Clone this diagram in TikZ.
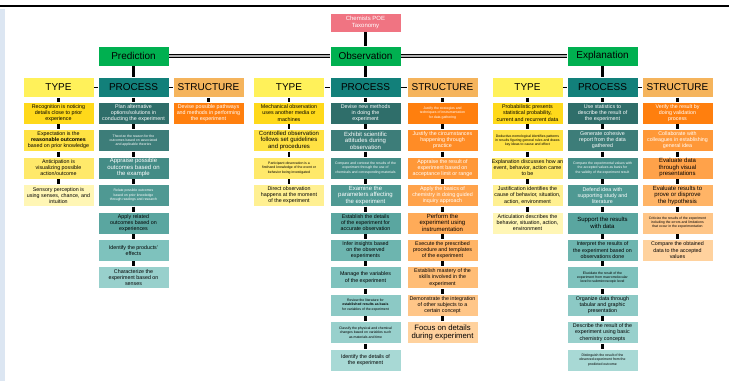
\documentclass[tikz,border=0pt]{standalone}
\usepackage{fontspec}
\setmainfont{Liberation Sans}
\usepackage{tikz}

\definecolor{strip}{HTML}{DCE6F2}
\definecolor{rootpink}{HTML}{F07482}
\definecolor{phasegreen}{HTML}{00B050}
\definecolor{typehead}{HTML}{FFF15A}
\definecolor{prochead}{HTML}{12807A}
\definecolor{structhead}{HTML}{F5B45C}
\definecolor{ya}{HTML}{FFD91A}
\definecolor{yb}{HTML}{FFE243}
\definecolor{yc}{HTML}{FFE96A}
\definecolor{yd}{HTML}{FFF092}
\definecolor{ye}{HTML}{FFF6B5}
\definecolor{ta}{HTML}{2F6E6A}
\definecolor{tb}{HTML}{3D7D79}
\definecolor{tc}{HTML}{448C86}
\definecolor{td}{HTML}{4F9993}
\definecolor{te}{HTML}{5AA6A0}
\definecolor{tf}{HTML}{6DB5AF}
\definecolor{tg}{HTML}{7EC2BD}
\definecolor{th}{HTML}{8CC9C5}
\definecolor{ti}{HTML}{98D0CC}
\definecolor{tj}{HTML}{A8D9D5}
\definecolor{oa}{HTML}{FF7F0E}
\definecolor{ob}{HTML}{FF8C26}
\definecolor{oc}{HTML}{FF9838}
\definecolor{od}{HTML}{FFA24A}
\definecolor{oe}{HTML}{FFAB58}
\definecolor{of}{HTML}{FFB466}
\definecolor{og}{HTML}{FFBD76}
\definecolor{oh}{HTML}{FFC688}
\definecolor{oi}{HTML}{FFD29E}

\newcommand{\cellfnt}{\fontsize{4}{4.6}\selectfont}
\newcommand{\tnfnt}{\fontsize{2.6}{3.2}\selectfont}
\newcommand{\bgfnt}{\fontsize{4.5}{4.9}\selectfont}
\newcommand{\hdfnt}{\fontsize{7.5}{8}\selectfont}

\tikzset{every picture/.style={line width=0.75pt},
  cell/.style={draw=white, line width=0.4pt, minimum width=53.25pt, minimum height=16.5pt,
    inner sep=0.3pt, align=center, font=\cellfnt},
  tn/.style={font=\tnfnt},
  bg/.style={font=\bgfnt},
  wt/.style={text=white},
  head/.style={cell, minimum height=15pt, font=\hdfnt},
  phase/.style={cell, fill=phasegreen, minimum height=15pt, font=\hdfnt},
  rootbox/.style={cell, fill=rootpink, text=white, minimum height=14pt, font=\fontsize{4.5}{5}\selectfont},
  link/.style={line width=1.9pt},
  hlink/.style={line width=1.2pt},
  dlink/.style={line width=0.8pt, double=gray!60, double distance=0.8pt}}

\begin{document}
\begin{tikzpicture}[x=0.75pt,y=0.75pt,yscale=-1,xscale=1]
\useasboundingbox (0,0) rectangle (729,381);

%Straight Lines top rule
\draw[line width=2pt] (0,6) -- (729,6);
%Shape: left strip
\fill[strip] (0,9) rectangle (5,381);

% Text Node root
\node[rootbox] (root) at (365.5,22.5) {Chemists POE\\Taxonomy};
% Text Node phases
\node[phase] (pred) at (133.5,56) {Prediction};
\node[phase] (obs) at (365.5,56) {Observation};
\node[phase] (expl) at (602.5,56) {Explanation};

% Text Node headers
\node[head, fill=typehead] (pty) at (58.5,87.5) {TYPE};
\node[head, fill=prochead] (ppr) at (133.5,87.5) {PROCESS};
\node[head, fill=structhead] (pst) at (208.5,87.5) {STRUCTURE};
\node[head, fill=typehead] (oty) at (289,87.5) {TYPE};
\node[head, fill=prochead] (opr) at (365.5,87.5) {PROCESS};
\node[head, fill=structhead] (ost) at (442.5,87.5) {STRUCTURE};
\node[head, fill=typehead] (ety) at (527.5,87.5) {TYPE};
\node[head, fill=prochead] (epr) at (602.5,87.5) {PROCESS};
\node[head, fill=structhead] (est) at (677.5,87.5) {STRUCTURE};

% Prediction type
\node[cell, fill=ya] (pt1) at (58.5,113) {Recognition is noticing\\details close to prior\\experience};
\node[cell, fill=yb] (pt2) at (58.5,140.4) {Expectation is the\\\textbf{reasonable outcomes}\\based on prior knowledge};
\node[cell, fill=yc] (pt3) at (58.5,167.9) {Anticipation is\\visualizing possible\\action/outcome};
\node[cell, fill=ye] (pt4) at (58.5,195.3) {Sensory perception is\\using senses, chance, and\\intuition};
% Prediction process
\node[cell, fill=ta, wt] (pp1) at (133.5,113) {Plan alternative\\options/solutions in\\conducting the experiment};
\node[cell, fill=tb, wt, tn] (pp2) at (133.5,140.4) {Theorize the reason for the\\outcomes based on associated\\and applicable theories};
\node[cell, fill=tc, wt, bg] (pp3) at (133.5,167.9) {Appraise possible\\outcomes based on\\the example};
\node[cell, fill=td, wt, tn] (pp4) at (133.5,195.3) {Relate possible outcomes\\based on prior knowledge\\through readings and research};
\node[cell, fill=te] (pp5) at (133.5,222.8) {Apply related\\outcomes based on\\experiences};
\node[cell, fill=tg] (pp6) at (133.5,250.2) {Identify the products'\\effects};
\node[cell, fill=ti] (pp7) at (133.5,277.6) {Characterize the\\experiment based on\\senses};
% Prediction structure
\node[cell, fill=oa, wt] (ps1) at (208.5,113) {Devise possible pathways\\and methods in performing\\the experiment};

% Observation type
\node[cell, fill=ya] (ot1) at (289,113) {Mechanical observation\\uses another media or\\machines};
\node[cell, fill=yb, bg] (ot2) at (289,140.4) {Controlled observation\\follows set guidelines\\and procedures};
\node[cell, fill=yc, tn] (ot3) at (289,167.9) {Participant observation is a\\firsthand knowledge of the event or\\behavior being investigated};
\node[cell, fill=yd] (ot4) at (289,195.3) {Direct observation\\happens at the moment\\of the experiment};
% Observation process
\node[cell, fill=ta, wt] (op1) at (365.5,113) {Devise new methods\\in doing the\\experiment};
\node[cell, fill=tb, wt, bg] (op2) at (365.5,140.4) {Exhibit scientific\\attitudes during\\observation};
\node[cell, fill=tc, wt, tn] (op3) at (365.5,167.9) {Compare and contrast the results of the\\experiment through the use of\\chemicals and corresponding materials};
\node[cell, fill=td, wt, bg] (op4) at (365.5,195.3) {Examine the\\parameters affecting\\the experiment};
\node[cell, fill=te] (op5) at (365.5,222.8) {Establish the details\\of the experiment for\\accurate observation};
\node[cell, fill=tf] (op6) at (365.5,250.2) {Infer insights based\\on the observed\\experiments};
\node[cell, fill=tg] (op7) at (365.5,277.6) {Manage the variables\\of the experiment};
\node[cell, fill=th, tn] (op8) at (365.5,305.1) {Review the literature for\\\textbf{established results as basis}\\for variables of the experiment};
\node[cell, fill=ti, tn] (op9) at (365.5,332.5) {Classify the physical and chemical\\changes based on variables such\\as materials and time};
\node[cell, fill=tj] (op10) at (365.5,360) {Identify the details of\\the experiment};
% Observation structure
\node[cell, fill=oa, wt, tn] (os1) at (442.5,113) {Justify the strategies and\\techniques of instrumentation\\for data gathering};
\node[cell, fill=ob, wt] (os2) at (442.5,140.4) {Justify the circumstances\\happening through\\practice};
\node[cell, fill=oc, wt] (os3) at (442.5,167.9) {Appraise the result of\\experiment based on\\acceptance limit or range};
\node[cell, fill=od, wt] (os4) at (442.5,195.3) {Apply the basics of\\chemistry in doing guided\\inquiry approach};
\node[cell, fill=oe, bg] (os5) at (442.5,222.8) {Perform the\\experiment using\\instrumentation};
\node[cell, fill=of] (os6) at (442.5,250.2) {Execute the prescribed\\procedure and templates\\of the experiment};
\node[cell, fill=og] (os7) at (442.5,277.6) {Establish mastery of the\\skills involved in the\\experiment};
\node[cell, fill=oh] (os8) at (442.5,305.1) {Demonstrate the integration\\of other subjects to a\\certain concept};
\node[cell, fill=oi, font=\fontsize{5.8}{6.2}\selectfont] (os9) at (442.5,332.5) {Focus on details\\during experiment};

% Explanation type
\node[cell, fill=ya] (et1) at (527.5,113) {Probabilistic presents\\statistical probability,\\current and recurrent data};
\node[cell, fill=yb, tn] (et2) at (527.5,140.4) {Deductive-nomological identifies patterns\\in results figuring general rules and draws\\key ideas to cause and effect};
\node[cell, fill=yc] (et3) at (527.5,167.9) {Explanation discusses how an\\event, behavior, action came\\to be};
\node[cell, fill=yd] (et4) at (527.5,195.3) {Justification identifies the\\cause of behavior, situation,\\action, environment};
\node[cell, fill=ye] (et5) at (527.5,222.8) {Articulation describes the\\behavior, situation, action,\\environment};
% Explanation process
\node[cell, fill=ta, wt] (ep1) at (602.5,113) {Use statistics to\\describe the result of\\the experiment};
\node[cell, fill=tb, wt] (ep2) at (602.5,140.4) {Generate cohesive\\report from the data\\gathered};
\node[cell, fill=tc, wt, tn] (ep3) at (602.5,167.9) {Compare the experimental values with\\the accepted values as basis for\\the validity of the experiment result};
\node[cell, fill=td, wt] (ep4) at (602.5,195.3) {Defend idea with\\supporting study and\\literature};
\node[cell, fill=te, bg] (ep5) at (602.5,222.8) {Support the results\\with data};
\node[cell, fill=tf] (ep6) at (602.5,250.2) {Interpret the results of\\the experiment based on\\observations done};
\node[cell, fill=tg, tn] (ep7) at (602.5,277.6) {Elucidate the result of the\\experiment from macromolecular\\level to submicroscopic level};
\node[cell, fill=th] (ep8) at (602.5,305.1) {Organize data through\\tabular and graphic\\presentation};
\node[cell, fill=ti] (ep9) at (602.5,332.5) {Describe the result of the\\experiment using basic\\chemistry concepts};
\node[cell, fill=tj, tn] (ep10) at (602.5,360) {Distinguish the result of the\\observed experiment from the\\predicted outcome};
% Explanation structure
\node[cell, fill=oa, wt] (es1) at (677.5,113) {Verify the result by\\doing validation\\process};
\node[cell, fill=oc, wt] (es2) at (677.5,140.4) {Collaborate with\\colleagues in establishing\\general idea};
\node[cell, fill=od, bg] (es3) at (677.5,167.9) {Evaluate data\\through visual\\presentations};
\node[cell, fill=of, bg] (es4) at (677.5,195.3) {Evaluate results to\\prove or disprove\\the hypothesis};
\node[cell, fill=oh, tn] (es5) at (677.5,222.8) {Criticize the results of the experiment\\including the errors and limitations\\that occur in the experimentation};
\node[cell, fill=oi] (es6) at (677.5,250.2) {Compare the obtained\\data to the accepted\\values};

%Straight Lines top level
\draw[link] (root) -- (obs);
\draw[dlink] (pred) -- (obs) -- (expl);
\draw[link] (pred) -- (ppr);
\draw[link] (obs) -- (opr);
\draw[link] (expl) -- (epr);
\draw[hlink] (pty) -- (ppr) -- (pst);
\draw[hlink] (oty) -- (opr) -- (ost);
\draw[hlink] (ety) -- (epr) -- (est);

%Straight Lines prediction
\draw[link] (pty) -- (pt1) (pt1) -- (pt2) (pt2) -- (pt3) (pt3) -- (pt4);
\draw[link] (ppr) -- (pp1) (pp1) -- (pp2) (pp2) -- (pp3) (pp3) -- (pp4) (pp4) -- (pp5) (pp5) -- (pp6) (pp6) -- (pp7);
\draw[link] (pst) -- (ps1);
%Straight Lines observation
\draw[link] (oty) -- (ot1) (ot1) -- (ot2) (ot2) -- (ot3) (ot3) -- (ot4);
\draw[link] (opr) -- (op1) (op1) -- (op2) (op2) -- (op3) (op3) -- (op4) (op4) -- (op5) (op5) -- (op6) (op6) -- (op7) (op7) -- (op8) (op8) -- (op9) (op9) -- (op10);
\draw[link] (ost) -- (os1) (os1) -- (os2) (os2) -- (os3) (os3) -- (os4) (os4) -- (os5) (os5) -- (os6) (os6) -- (os7) (os7) -- (os8) (os8) -- (os9);
%Straight Lines explanation
\draw[link] (ety) -- (et1) (et1) -- (et2) (et2) -- (et3) (et3) -- (et4) (et4) -- (et5);
\draw[link] (epr) -- (ep1) (ep1) -- (ep2) (ep2) -- (ep3) (ep3) -- (ep4) (ep4) -- (ep5) (ep5) -- (ep6) (ep6) -- (ep7) (ep7) -- (ep8) (ep8) -- (ep9) (ep9) -- (ep10);
\draw[link] (est) -- (es1) (es1) -- (es2) (es2) -- (es3) (es3) -- (es4) (es4) -- (es5) (es5) -- (es6);

\end{tikzpicture}
\end{document}
